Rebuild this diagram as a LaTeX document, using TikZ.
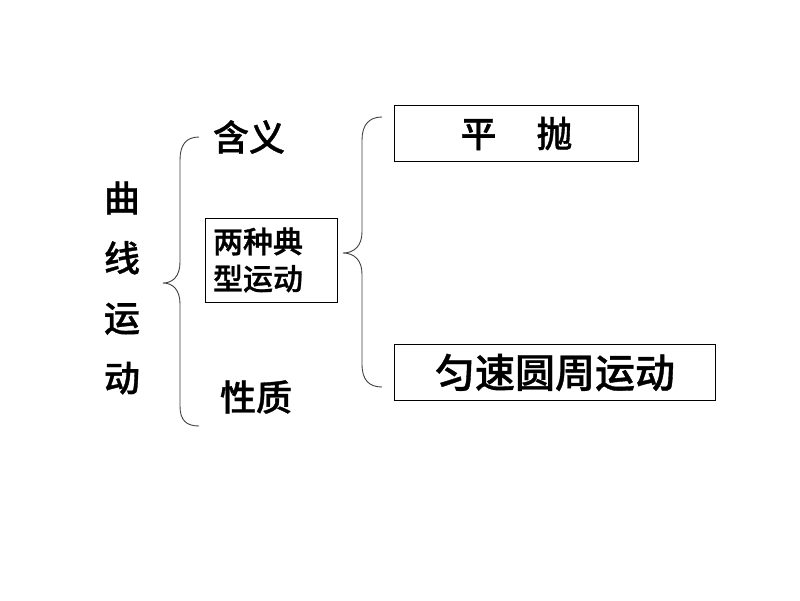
\documentclass[tikz,border=0pt]{standalone}
\usepackage{fontspec}
\newfontfamily\cjk{Noto Sans CJK SC Medium}[FakeBold=0.9]
\usepackage{tikz}
\usetikzlibrary{positioning}

\begin{document}
\begin{tikzpicture}[x=1pt,y=-1pt,
                    txt/.style={font=\cjk\fontsize{36}{60}\selectfont,inner sep=0pt},
                    box/.style={draw,line width=0.8pt,inner sep=0pt},
                    brace/.style={draw=black!75,line width=0.9pt}]
  \useasboundingbox[fill=white] (0,0) rectangle (800,600);
  % left column
  \node[txt,align=center] (title) at (122,288) {曲\\线\\运\\动};
  \node[txt] (mean) at (249,137) {含义};
  \node[txt] (prop) at (256,397) {性质};
  \node[box,text width=116pt,inner xsep=8pt,minimum height=84pt,align=left,
        font=\cjk\fontsize{30}{37}\selectfont] (two) at (271,260)
        {两种典\\型运动};
  % right column
  \node[box,txt,minimum width=244pt,minimum height=56pt] (flat) at (516.5,133.5)
        {平\hspace{40pt}抛};
  \node[box,txt,font=\cjk\fontsize{40}{40}\selectfont,
        minimum width=321pt,minimum height=56pt] (circ) at (555,372.5)
        {匀速圆周运动};
  % braces
  \path[brace] (199,137) .. controls (186,137) and (180,145) .. (180,160)
        -- (180,262) .. controls (180,276) and (173,283) .. (163,283)
        .. controls (173,283) and (180,290) .. (180,304)
        -- (180,406) .. controls (180,420) and (186,426) .. (199,426);
  \path[brace] (382,117) .. controls (369,117) and (362,125) .. (362,140)
        -- (362,232) .. controls (362,246) and (354,253) .. (343,253)
        .. controls (354,253) and (362,260) .. (362,274)
        -- (362,364) .. controls (362,380) and (369,387) .. (382,387);
\end{tikzpicture}
\end{document}
